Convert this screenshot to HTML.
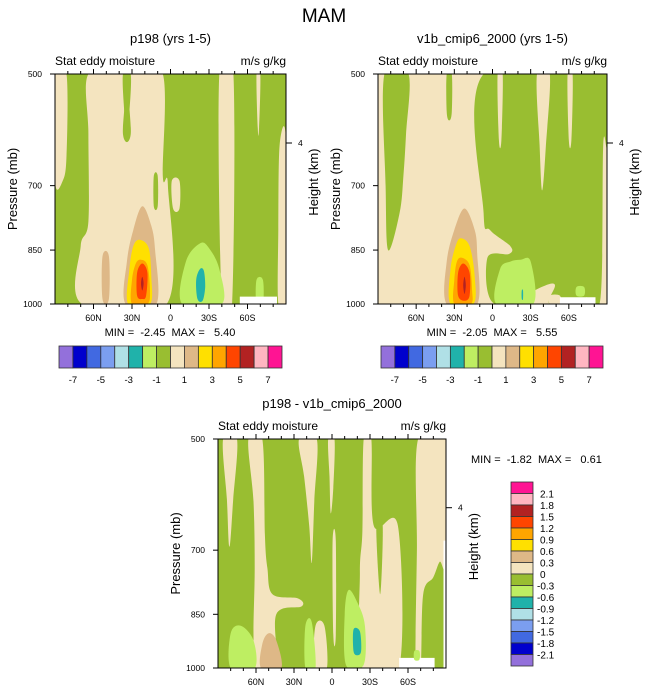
<!DOCTYPE html>
<html><head><meta charset="utf-8"><style>
html,body{margin:0;padding:0;background:#fff;}
svg{display:block;font-family:"Liberation Sans",Arial,sans-serif;}
.pre{white-space:pre;}
</style></head><body>
<svg id="fig" width="648" height="693" viewBox="0 0 648 693" xmlns="http://www.w3.org/2000/svg">
<text x="324" y="22" font-size="19" text-anchor="middle">MAM</text>
</svg>
<script>
// ---- data ----
const latTicks = [60, 30, 0, -30, -60];
const latTickLabels = ["60N", "30N", "0", "30S", "60S"];
const presTicks = [500, 700, 850, 1000];
const topLevelLabels = ["-7", "-5", "-3", "-1", "1", "3", "5", "7"];
const diffLevelLabels = ["2.1","1.8","1.5","1.2","0.9","0.6","0.3","0","-0.3","-0.6","-0.9","-1.2","-1.5","-1.8","-2.1"];
const panelTitles = ["p198 (yrs 1-5)", "v1b_cmip6_2000 (yrs 1-5)", "p198 - v1b_cmip6_2000"];
const minValues = [-2.45, -2.05, -1.82];
const maxValues = [5.40, 5.55, 0.61];
const palette = ["#9370DB","#0000CD","#4169E1","#7B9EF0","#B0E0E6","#20B2AA","#BEEE62","#99BE31","#F4E4BF","#DEB887","#FFE000","#FFA500","#FF4500","#B22222","#FFB6C1","#FF1493"];
const shapesA = [
 [8, [[90,500],[81,500],[81,640],[84,690],[90,690]]],
 [8, [[64,500],[37,500],[37,600],[31,600],[31,500],[6,500],[6,680],[2,700],[3,1000],[69,1000],[70,840],[64,780],[64,600]]],
 [7, [[37,500],[31,500],[32,560],[34,595],[36,560]]],
 [7, [[13,680],[10,680],[10,745],[13,745]]],
 [8, [[-1,690],[-7,690],[-7,750],[-2,750]]],
 [8, [[-38,500],[-49,500],[-48,1000],[-40,1000]]],
 [8, [[-67,500],[-70,500],[-69,590],[-68,590]]],
 [8, [[-85,620],[-90,610],[-90,1000],[-84,1000],[-84,800]]],
 [6, [[-67,930],[-72,930],[-72,1000],[-67,1000]]],
 [9, [[53,866],[48,866],[48,985],[53,985]]],
 [9, [[22,745],[15,790],[12,850],[11,1000],[35,1000],[34,880],[29,800]]],
 [10, [[24,824],[17,845],[15,920],[16,1000],[33,1000],[32,900],[29,840]]],
 [11, [[23,875],[18,890],[16,960],[18,1000],[30,1000],[30,930],[27,885]]],
 [12, [[22,885],[18,910],[19,975],[22,985],[26,975],[26,910]]],
 [13, [[22,921],[21,940],[22,960],[23,940]]],
 [6, [[-23,833],[-12,880],[-9,1000],[-40,1000],[-38,900],[-30,845]]],
 [5, [[-23,900],[-20,930],[-21,985],[-25,990],[-27,950],[-26,905]]],
 [-1, [[-54,978],[-83,978],[-83,1000],[-54,1000]]]
];
const shapesB = [
 [8, [[90,500],[-90,500],[-90,1000],[90,1000]]],
 [7, [[85,500],[66,500],[68,600],[70,680],[73,760],[82,850],[84,700]]],
 [8, [[65,500],[63,500],[63,540],[64,545]]],
 [7, [[36,500],[32,500],[32,560],[34,575],[36,560]]],
 [7, [[7,500],[-90,500],[-90,620],[-87,620],[-85,980],[-74,980],[-74,1000],[-45,1000],[-47,940],[-2,1000],[4,870],[-13,860],[-14,840],[2,800],[7,760]]],
 [8, [[-4,500],[-8,500],[-7,610],[-5,610]]],
 [8, [[-35,500],[-45,500],[-42,620],[-39,710],[-37,620]]],
 [8, [[-59,500],[-63,500],[-62,610],[-60,610]]],
 [8, [[-45,975],[-53,975],[-53,1000],[-45,1000]]],
 [6, [[-6,900],[-14,880],[-22,875],[-30,880],[-32,1000],[-3,1000]]],
 [5, [[-23,960],[-24,960],[-24,985],[-23,985]]],
 [6, [[-66,950],[-72,950],[-72,975],[-66,975]]],
 [-1, [[-53,980],[-81,980],[-81,1000],[-53,1000]]],
 [9, [[22,750],[14,800],[12,860],[12,1000],[36,1000],[36,880],[30,800]]],
 [10, [[25,820],[18,840],[14,920],[15,1000],[33,1000],[33,900],[29,840]]],
 [11, [[24,870],[18,890],[16,960],[17,1000],[30,1000],[30,930],[28,880]]],
 [12, [[23,885],[18,910],[18,975],[22,990],[27,975],[27,910]]],
 [13, [[22,921],[21,945],[22,970],[23,945]]]
];
const shapesC = [
 [8, [[86,500],[75,500],[78,600],[81,693],[83,600]]],
 [8, [[66,500],[55,500],[53,668],[51,739],[47,800],[27,810],[24,830],[44,850],[44,1000],[60,1000],[62,904],[61,739],[62,604]]],
 [8, [[13,880],[6,880],[4,1000],[14,1000]]],
 [8, [[26,500],[12,500],[14,604],[16,727],[18,650],[22,560]]],
 [8, [[3,500],[-2,500],[-1,580],[1,626],[2,560]]],
 [8, [[-0.5,680],[-3,680],[-3,904],[-1,904]]],
 [8, [[-25,500],[-31,500],[-33,650],[-52,650],[-53,1000],[-24,1000],[-22,750],[-24,660]]],
 [7, [[-35,650],[-40,650],[-38,800]]],
 [8, [[-68,500],[-90,500],[-90,725],[-85,725],[-80,760],[-72,800],[-70,1000],[-66,1000],[-67,700]]],
 [6, [[80,900],[72,880],[62,920],[61,1000],[80,1000]]],
 [6, [[21,880],[16,870],[13,1000],[21,1000]]],
 [9, [[50,900],[44,920],[40,1000],[56,1000],[55,930]]],
 [6, [[-13,790],[-10,850],[-11,990],[-25,990],[-26,880],[-20,820]]],
 [5, [[-17,890],[-17,950],[-20,962],[-23,950],[-22,895]]],
 [-1, [[-53,970],[-81,970],[-81,1000],[-53,1000]]],
 [6, [[-65,950],[-69,950],[-69,975],[-65,975]]],
 [-1, [[-88,680],[-90,680],[-90,1000],[-88,1000]]]
];

// ---- drawing ----
const NS = "http://www.w3.org/2000/svg";
const svg = document.getElementById("fig");
function mk(tag, attrs, parent) {
  const e = document.createElementNS(NS, tag);
  for (const k in attrs) e.setAttribute(k, attrs[k]);
  (parent || svg).appendChild(e);
  return e;
}
function smoothPath(pts) {
  const n = pts.length; let d = "M" + pts[0][0].toFixed(1) + "," + pts[0][1].toFixed(1);
  for (let i = 0; i < n; i++) {
    const p0 = pts[(i - 1 + n) % n], p1 = pts[i], p2 = pts[(i + 1) % n], p3 = pts[(i + 2) % n];
    const c1 = [p1[0] + (p2[0] - p0[0]) / 6, p1[1] + (p2[1] - p0[1]) / 6];
    const c2 = [p2[0] - (p3[0] - p1[0]) / 6, p2[1] - (p3[1] - p1[1]) / 6];
    d += "C" + c1[0].toFixed(1) + "," + c1[1].toFixed(1) + " " + c2[0].toFixed(1) + "," + c2[1].toFixed(1) + " " + p2[0].toFixed(1) + "," + p2[1].toFixed(1);
  }
  return d + "Z";
}
function straightPath(pts) {
  return "M" + pts.map(p => p[0].toFixed(1) + "," + p[1].toFixed(1)).join("L") + "Z";
}
function drawPanel(idx, box, shapes, bg) {
  const xS = lat => box.x + (90 - lat) / 180 * box.w;
  const yS = p => box.y + Math.log(p / 500) / Math.log(2) * box.h;
  const g = mk("g", {});
  
  
  const cp = "clip" + idx;
  const cl = mk("clipPath", {id: cp}, g);
  mk("rect", {x: box.x, y: box.y, width: box.w, height: box.h}, cl);
  const inner = mk("g", {"clip-path": "url(#" + cp + ")"}, g);
  mk("rect", {x: box.x, y: box.y, width: box.w, height: box.h, fill: palette[bg]}, inner);
  shapes.forEach((s, i) => {
    const pts = s[1].map(v => [xS(v[0]), yS(v[1])]);
    const isMissing = s[0] < 0;
    const isRect = s[1].length === 4 && s[1][0][1] === s[1][1][1] && s[1][2][1] === s[1][3][1] && isMissing;
    const pa = mk("path", {d: isMissing ? straightPath(pts) : smoothPath(pts), fill: isMissing ? "#fff" : palette[s[0]]}, inner);
    
    
  });
  mk("rect", {x: box.x, y: box.y, width: box.w, height: box.h, fill: "none", stroke: "#000", "stroke-width": 1}, g);
  for (let lat = 80; lat >= -80; lat -= 10) {
    const major = latTicks.includes(lat);
    const L = major ? 5 : 3;
    mk("line", {x1: xS(lat), x2: xS(lat), y1: box.y, y2: box.y - L, stroke: "#000"}, g);
    mk("line", {x1: xS(lat), x2: xS(lat), y1: box.y + box.h, y2: box.y + box.h + L, stroke: "#000"}, g);
  }
  latTicks.forEach((lat, i) => {
    const t = mk("text", {x: xS(lat), y: box.y + box.h + 17, "font-size": 9, "text-anchor": "middle"}, g);
    t.textContent = latTickLabels[i];
    
    
  });
  presTicks.forEach(p => {
    mk("line", {x1: box.x, x2: box.x - 5, y1: yS(p), y2: yS(p), stroke: "#000"}, g);
    const t = mk("text", {x: box.x - 13, y: yS(p) + 3, "font-size": 8.5, "text-anchor": "end"}, g);
    t.textContent = p;
    
    
  });
  const y4 = box.y + box.h * 0.3;
  mk("line", {x1: box.x + box.w, x2: box.x + box.w + 6, y1: y4, y2: y4, stroke: "#000"}, g);
  const h4 = mk("text", {x: box.x + box.w + 12, y: y4 + 3, "font-size": 8.5}, g);
  h4.textContent = "4";
  
  
  const yl = mk("text", {x: 0, y: 0, "font-size": 13, "text-anchor": "middle", transform: "translate(" + (box.x - 38) + "," + (box.y + box.h / 2) + ") rotate(-90)"}, g);
  yl.textContent = "Pressure (mb)";
  
  
  const yr = mk("text", {x: 0, y: 0, "font-size": 13, "text-anchor": "middle", transform: "translate(" + (box.x + box.w + 32) + "," + (box.y + box.h * 0.47) + ") rotate(-90)"}, g);
  yr.textContent = "Height (km)";
  
  
  const tt = mk("text", {x: box.x + box.w / 2, y: box.y - 31, "font-size": 13, "text-anchor": "middle"}, g);
  tt.textContent = panelTitles[idx];
  
  
  const sl = mk("text", {x: box.x, y: box.y - 9, "font-size": 12}, g);
  sl.textContent = "Stat eddy moisture";
  
  
  const ul = mk("text", {x: box.x + box.w, y: box.y - 9, "font-size": 12, "text-anchor": "end"}, g);
  ul.textContent = "m/s g/kg";
  
  
  return {xS, yS};
}
function mmText(i, x, y, anchor) {
  const t = mk("text", {x: x, y: y, "font-size": 11, "text-anchor": anchor, "class": "pre"});
  t.textContent = "MIN =  " + minValues[i].toFixed(2) + "  MAX =   " + maxValues[i].toFixed(2);
  
  
}
drawPanel(0, {x: 55, y: 74, w: 231, h: 230}, shapesA, 7);
mmText(0, 170, 336, "middle");
drawPanel(1, {x: 378, y: 74, w: 229, h: 230}, shapesB, 8);
mmText(1, 492, 336, "middle");
drawPanel(2, {x: 218, y: 439, w: 228, h: 229}, shapesC, 7);
mmText(2, 471, 463, "start");

function hBar(x0, x1, y0, h, labels) {
  const g = mk("g", {});
  
  
  const bw = (x1 - x0) / palette.length;
  palette.forEach((c, i) => {
    const r = mk("rect", {x: x0 + i * bw, y: y0, width: bw, height: h, fill: c, stroke: "#333", "stroke-width": 0.8}, g);
    
    
  });
  labels.forEach((l, i) => {
    const t = mk("text", {x: x0 + (2 * i + 1) * bw, y: y0 + h + 15, "font-size": 9.5, "text-anchor": "middle"}, g);
    t.textContent = l;
    
    
  });
}
hBar(59, 282, 346, 22, topLevelLabels);
hBar(381, 603, 346, 22, topLevelLabels);
(function () {
  const g = mk("g", {});
  
  
  const y0 = 482, y1 = 666, bh = (y1 - y0) / palette.length;
  const rev = palette.slice().reverse();
  rev.forEach((c, i) => {
    const r = mk("rect", {x: 511, y: y0 + i * bh, width: 22, height: bh, fill: c, stroke: "#333", "stroke-width": 0.8}, g);
    
    
  });
  diffLevelLabels.forEach((l, i) => {
    const t = mk("text", {x: l.startsWith("-") ? 537 : 540, y: y0 + (i + 1) * bh + 4, "font-size": 10}, g);
    t.textContent = l;
    
    
  });
})();
</script>
</body></html>
